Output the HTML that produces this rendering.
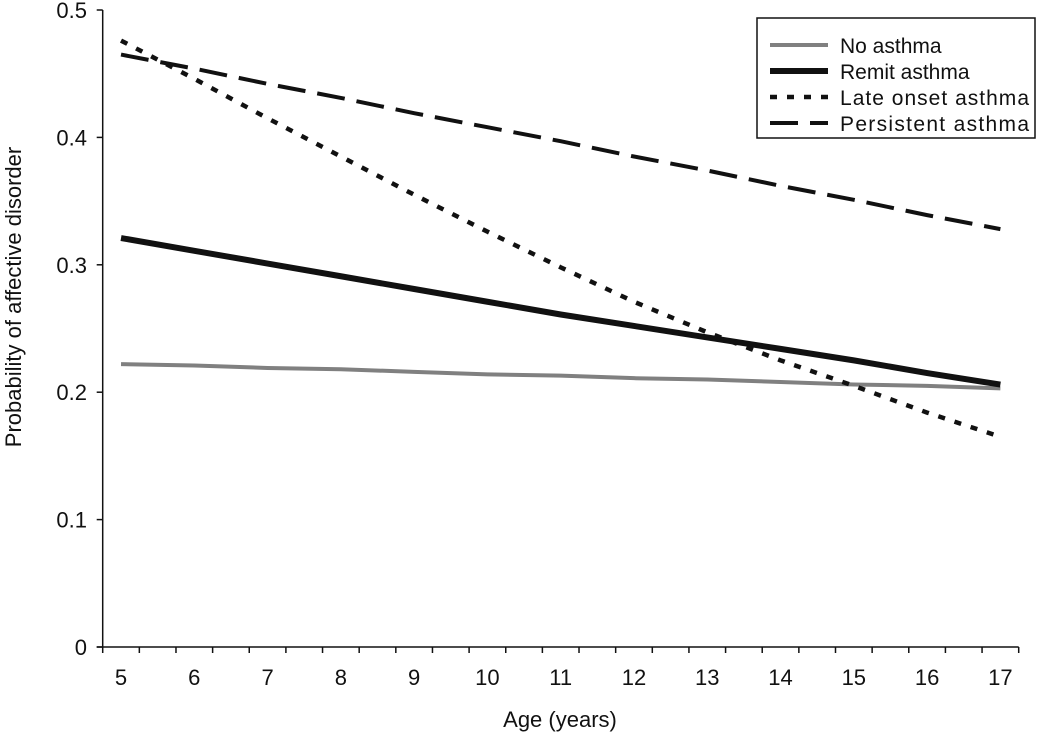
<!DOCTYPE html>
<html><head><meta charset="utf-8"><style>
body{margin:0;background:#fff}
svg text{font-family:"Liberation Sans",sans-serif;fill:#111}
</style></head><body>
<svg id="c" width="1050" height="741"></svg>
<script>
const ages=[5,6,7,8,9,10,11,12,13,14,15,16,17];
const noAsthma=[0.222,0.221,0.219,0.218,0.216,0.214,0.213,0.211,0.210,0.208,0.206,0.205,0.203];
const remitAsthma=[0.321,0.311,0.301,0.291,0.281,0.271,0.261,0.252,0.243,0.234,0.225,0.215,0.206];
const lateOnset=[0.476,0.446,0.415,0.385,0.355,0.326,0.298,0.271,0.247,0.225,0.205,0.184,0.165];
const persistent=[0.465,0.454,0.442,0.431,0.419,0.408,0.397,0.385,0.374,0.362,0.351,0.339,0.328];
const yTicks=[0,0.1,0.2,0.3,0.4,0.5];
const yTickLabels=["0","0.1","0.2","0.3","0.4","0.5"];
const NS="http://www.w3.org/2000/svg";
const svg=document.getElementById('c');
const x0=102.7,step=36.64,yBase=647,yTop=10;
const X=a=>x0+(2*(a-5)+0.5)*step;
const Y=v=>yBase-(v/0.5)*(yBase-yTop);
function mk(t,at){const e=document.createElementNS(NS,t);for(const k in at)e.setAttribute(k,at[k]);svg.appendChild(e);return e;}
let e;
e=mk('line',{x1:x0,y1:yTop,x2:x0,y2:yBase,stroke:'#111','stroke-width':1.5});


e=mk('line',{x1:x0-6,y1:yBase,x2:x0+25*step,y2:yBase,stroke:'#111','stroke-width':1.5});


for(let i=0;i<=25;i++){e=mk('line',{x1:x0+i*step,y1:yBase,x2:x0+i*step,y2:yBase+6,stroke:'#111','stroke-width':1.5});

}
yTicks.forEach((v,i)=>{e=mk('line',{x1:x0-6,y1:Y(v),x2:x0,y2:Y(v),stroke:'#111','stroke-width':1.5});


e=mk('text',{x:87,y:Y(v)+8,'text-anchor':'end','font-size':22});e.textContent=yTickLabels[i];

});
ages.forEach(a=>{e=mk('text',{x:X(a),y:685,'text-anchor':'middle','font-size':22});e.textContent=a;

});
e=mk('text',{x:560,y:727,'text-anchor':'middle','font-size':22});e.textContent='Age (years)';


e=mk('text',{x:21,y:297,'text-anchor':'middle','font-size':22,transform:'rotate(-90 21 297)'});e.textContent='Probability of affective disorder';


const series=[
 {d:noAsthma,c:'#808080',w:4,da:'',n:'No asthma',id:'series-no-asthma'},
 {d:remitAsthma,c:'#111',w:6,da:'',n:'Remit asthma',id:'series-remit-asthma'},
 {d:lateOnset,c:'#111',w:4.5,da:'7 10',n:'Late onset asthma',id:'series-late-onset-asthma'},
 {d:persistent,c:'#111',w:4,da:'28 12',n:'Persistent asthma',id:'series-persistent-asthma'}];
series.forEach(s=>{e=mk('polyline',{points:s.d.map((v,i)=>X(ages[i])+','+Y(v)).join(' '),fill:'none',stroke:s.c,'stroke-width':s.w,'stroke-dasharray':s.da});

});
e=mk('rect',{x:757,y:18,width:278,height:120,fill:'#fff',stroke:'#111','stroke-width':1.5});


series.forEach((s,i)=>{const y=45+i*26;
e=mk('line',{x1:770,y1:y,x2:828,y2:y,stroke:s.c,'stroke-width':s.w,'stroke-dasharray':s.da});


e=mk('text',{x:840,y:y+8,'font-size':21,textLength:s.n.length>12?189:0}); if(s.n.length<=12)e.removeAttribute('textLength'); e.textContent=s.n;

});
</script>
</body></html>
